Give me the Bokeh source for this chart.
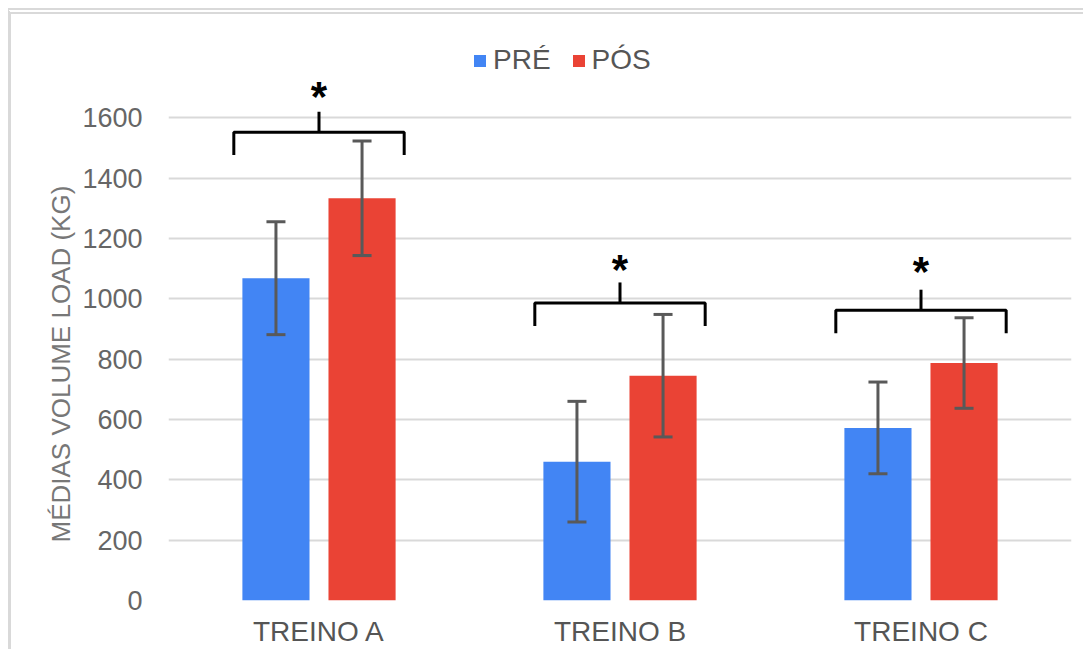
import numpy as np
from bokeh.plotting import figure
from bokeh.models import (FactorRange, Range1d, FixedTicker, Whisker, TeeHead,
                          ColumnDataSource, Legend, LegendItem, Title)
from bokeh.core.properties import value
from bokeh.embed import file_html
from bokeh.resources import INLINE

# ---------------- data ----------------
categories = ["TREINO A", "TREINO B", "TREINO C"]
pre_mean = [1068, 460, 572]
pre_err = [187, 200, 152]
pos_mean = [1333, 745, 787]
pos_err = [190, 203, 150]
y_ticks = [0, 200, 400, 600, 800, 1000, 1200, 1400, 1600]
legend_labels = ["PRÉ", "PÓS"]
y_title = "MÉDIAS VOLUME LOAD (KG)"
sig_marks = ["*", "*", "*"]
bracket_level = [1552, 986, 962]   # height of significance brackets (value units)
star_level = [1671, 1098, 1089]    # height of the significance stars

# ---------------- style ----------------
BLUE = "#4285F4"
RED = "#EA4335"
GRID = "#d9d9d9"
FONT = "Liberation Sans"
DODGE = 0.143
BAR_W = 0.223
BR_HALF = 0.283
BR_DROP = 76
BR_TICK = 68
Y_TOP = 1942

idx = np.arange(len(categories)) + 0.5
x_pre = idx - DODGE
x_pos = idx + DODGE

src_pre = ColumnDataSource(dict(x=x_pre, top=pre_mean,
                                lo=np.array(pre_mean) - np.array(pre_err),
                                hi=np.array(pre_mean) + np.array(pre_err)))
src_pos = ColumnDataSource(dict(x=x_pos, top=pos_mean,
                                lo=np.array(pos_mean) - np.array(pos_err),
                                hi=np.array(pos_mean) + np.array(pos_err)))

p = figure(x_range=FactorRange(*categories), y_range=Range1d(0, Y_TOP),
           frame_width=903, frame_height=586,
           min_border_left=157, min_border_right=12, min_border_top=0,
           min_border_bottom=49,
           output_backend="svg", toolbar_location=None,
           styles={"border-left": "3px solid #d9d9d9",
                   "border-top": "6px double #d9d9d9",
                   "margin-left": "8px", "margin-top": "8px"})
p.outline_line_color = None
p.background_fill_color = "white"
p.border_fill_color = "white"

r_pre = p.vbar(x="x", top="top", width=BAR_W, source=src_pre, fill_color=BLUE, line_color=None)
r_pos = p.vbar(x="x", top="top", width=BAR_W, source=src_pos, fill_color=RED, line_color=None)

for src in (src_pre, src_pos):
    w = Whisker(base="x", lower="lo", upper="hi", source=src, level="overlay",
                line_color="#595959", line_width=3,
                upper_head=TeeHead(size=19, line_color="#595959", line_width=3),
                lower_head=TeeHead(size=19, line_color="#595959", line_width=3))
    p.add_layout(w)

# significance brackets
xs, ys = [], []
for c, yb in zip(idx, bracket_level):
    xs.append([c - BR_HALF, c - BR_HALF, c + BR_HALF, c + BR_HALF])
    ys.append([yb - BR_DROP, yb, yb, yb - BR_DROP])
p.multi_line(xs, ys, line_color="black", line_width=3)
p.segment(x0=idx, y0=bracket_level, x1=idx,
          y1=[b + BR_TICK for b in bracket_level], line_color="black", line_width=3)
p.text(x=idx, y=star_level, text=sig_marks, text_align="center", text_baseline="middle",
       text_font=value(FONT), text_font_size="42px", text_font_style="bold",
       text_color="black")

# axes
p.yaxis.ticker = FixedTicker(ticks=y_ticks)
p.yaxis.axis_line_color = None
p.yaxis.major_tick_line_color = None
p.yaxis.minor_tick_line_color = None
p.yaxis.major_tick_out = 0
p.yaxis.major_tick_in = 0
p.yaxis.major_label_standoff = 26
p.yaxis.major_label_text_font = FONT
p.yaxis.major_label_text_font_size = "27px"
p.yaxis.major_label_text_color = "#666666"

p.xaxis.axis_line_color = None
p.xaxis.major_tick_line_color = None
p.xaxis.major_tick_out = 0
p.xaxis.major_tick_in = 0
p.xaxis.major_label_standoff = 15
p.xaxis.major_label_text_font = FONT
p.xaxis.major_label_text_font_size = "28px"
p.xaxis.major_label_text_color = "#555555"

p.xgrid.grid_line_color = None
p.ygrid.grid_line_color = GRID
p.ygrid.grid_line_width = 2

t = Title(text=y_title, align="left", offset=58, standoff=7, text_font=FONT,
          text_font_size="26px", text_font_style="normal", text_color="#777777")
p.add_layout(t, "left")

legend = Legend(items=[LegendItem(label=legend_labels[0], renderers=[r_pre]),
                       LegendItem(label=legend_labels[1], renderers=[r_pos])],
                orientation="horizontal", location=(304, 524),
                glyph_width=15, glyph_height=15, label_standoff=6, spacing=20,
                padding=0, margin=0, border_line_color=None, background_fill_alpha=0,
                label_text_font=FONT, label_text_font_size="28px",
                label_text_color="#555555")
p.add_layout(legend, "center")

open("out.html", "w").write(file_html(p, INLINE))
